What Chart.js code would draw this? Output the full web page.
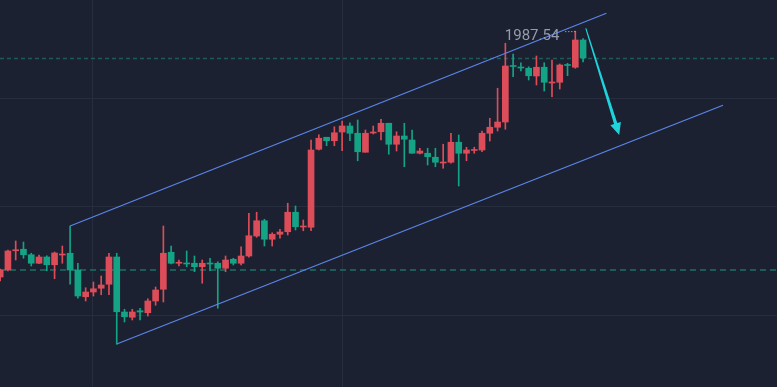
<!DOCTYPE html>
<html>
<head>
<meta charset="utf-8">
<script src="https://cdn.jsdelivr.net/npm/chart.js@4.4.0/dist/chart.umd.min.js"></script>
<style>
  html, body { margin: 0; padding: 0; background: #1b2130; overflow: hidden; }
  canvas { display: block; }
</style>
</head>
<body>
<canvas id="chart" width="777" height="387"></canvas>
<script>
(function() {
    'use strict';

    // candle data, first candle sits at index -1 (cut by the left edge)
    const firstIndex = -1;
    const opens = [1889.2,1892.0,1899.7,1900.3,1898.1,1894.7,1897.2,1894.1,1898.0,1898.7,
        1892.0,1881.3,1883.2,1884.7,1886.3,1897.2,1875.2,1873.1,1875.7,1874.9,
        1879.6,1884.3,1899.1,1894.7,1894.8,1894.7,1893.3,1894.8,1894.7,1892.7,
        1896.3,1894.7,1897.6,1905.6,1911.7,1904.3,1906.3,1907.3,1915.1,1909.2,
        1909.1,1940.3,1945.1,1943.7,1947.2,1949.6,1946.7,1939.1,1946.8,1947.3,
        1950.7,1942.3,1945.6,1944.0,1938.7,1938.7,1937.1,1934.8,1935.1,1943.1,
        1938.7,1939.8,1940.0,1946.7,1949.1,1951.2,1973.8,1973.0,1972.7,1969.6,
        1973.1,1966.8,1967.1,1974.2,1973.1,1984.0];
    const highs = [1892.4,1900.0,1903.6,1903.2,1898.7,1898.0,1897.7,1899.2,1901.6,1909.6,
        1894.7,1884.9,1887.2,1889.6,1898.7,1898.7,1876.3,1876.3,1876.7,1880.5,
        1885.2,1909.6,1901.6,1896.0,1899.6,1897.6,1896.0,1896.7,1895.3,1897.6,
        1896.7,1901.3,1914.7,1915.1,1912.3,1906.9,1908.3,1918.7,1917.6,1912.0,
        1944.0,1946.1,1945.1,1949.3,1951.6,1950.9,1952.0,1948.0,1949.6,1952.3,
        1950.7,1947.3,1950.7,1948.0,1940.7,1940.7,1940.7,1942.3,1946.7,1946.0,
        1941.1,1941.1,1947.6,1952.7,1964.7,1982.7,1978.4,1974.9,1973.3,1977.6,
        1974.9,1976.0,1974.4,1974.7,1987.54,1984.6];
    const lows = [1887.6,1891.6,1896.0,1896.7,1893.6,1894.5,1891.7,1888.5,1894.7,1886.3,
        1880.7,1879.6,1881.6,1882.1,1882.1,1862.3,1871.2,1872.0,1872.0,1873.6,
        1877.9,1879.2,1894.4,1893.6,1893.3,1891.3,1886.7,1891.7,1876.7,1891.3,
        1894.0,1894.0,1897.1,1905.1,1901.6,1901.6,1904.7,1906.0,1908.0,1907.7,
        1907.7,1940.0,1941.7,1941.7,1939.7,1943.7,1935.7,1939.1,1946.4,1944.0,
        1938.3,1939.6,1933.3,1938.7,1938.4,1934.0,1933.3,1932.7,1934.7,1925.6,
        1935.7,1938.7,1939.3,1943.6,1947.6,1948.3,1969.3,1971.6,1968.0,1966.0,
        1963.6,1961.3,1964.4,1969.7,1972.7,1975.2];
    const closes = [1892.0,1899.6,1900.0,1898.1,1894.7,1897.2,1894.1,1898.8,1898.4,1892.0,
        1881.6,1883.2,1884.5,1886.0,1897.2,1875.3,1873.3,1875.2,1875.2,1879.6,
        1884.0,1898.7,1894.7,1895.1,1894.4,1893.3,1894.7,1894.4,1892.7,1896.0,
        1894.7,1897.6,1905.7,1911.7,1904.3,1906.3,1907.2,1915.1,1909.3,1909.6,
        1940.0,1944.7,1943.7,1946.9,1949.6,1946.7,1939.3,1946.7,1947.1,1950.7,
        1942.3,1945.6,1944.3,1938.7,1939.6,1937.3,1935.1,1935.2,1943.1,1938.7,
        1940.0,1940.2,1946.7,1949.1,1951.2,1973.6,1973.4,1972.8,1969.7,1973.1,
        1967.1,1967.2,1974.0,1973.8,1984.0,1976.8];

    // drawn objects: channel, arrow, dashed levels, grid
    const upperChannel = [[8, 1909.6], [77.0, 1994.7]];
    const lowerChannel = [[14, 1862.4], [92.0, 1957.9]];
    const arrowPath = [[74.35, 1988.7], [78.65, 1946.0]];
    const levelTop = 1976.9;
    const levelBottom = 1892.1;
    const yGrid = [1874.0, 1917.3, 1960.7];
    const xGrid = [10.9, 43.0];

    const RED = '#dd4d59';
    const GREEN = '#15a386';

    const wicks = lows.map((l, i) => ({ x: i + firstIndex, y: [l, highs[i]] }));
    const bodies = opens.map((o, i) => ({ x: i + firstIndex, y: [o, closes[i]] }));
    const upColor = ctx => {
        const i = ctx.dataIndex;
        return closes[i] >= opens[i] ? RED : GREEN;
    };

    const overlay = {
        id: 'overlay',
        beforeDatasetsDraw(chart) {
            const { ctx, chartArea: a, scales: { y } } = chart;
            ctx.save();
            ctx.strokeStyle = '#1d5b57';
            ctx.lineWidth = 1.5;
            ctx.setLineDash([4, 3]);
            let py = Math.round(y.getPixelForValue(levelTop)) + 0.5;
            ctx.beginPath(); ctx.moveTo(a.left, py); ctx.lineTo(a.right, py); ctx.stroke();
            ctx.lineWidth = 2;
            ctx.setLineDash([6, 4]);
            py = Math.round(y.getPixelForValue(levelBottom));
            ctx.beginPath(); ctx.moveTo(a.left, py); ctx.lineTo(a.right, py); ctx.stroke();
            ctx.restore();
        },
        afterDatasetsDraw(chart) {
            const { ctx, scales: { x, y } } = chart;
            ctx.save();
            // high label
            let hi = 0;
            highs.forEach((h, i) => { if (h > highs[hi]) hi = i; });
            const hx = x.getPixelForValue(hi + firstIndex);
            const hy = y.getPixelForValue(highs[hi]);
            ctx.font = '15px Roboto';
            ctx.fillStyle = '#959cab';
            ctx.textAlign = 'right';
            ctx.textBaseline = 'middle';
            ctx.fillText(highs[hi].toFixed(2), hx - 16, hy + 5);
            ctx.strokeStyle = '#c9ccd3';
            ctx.lineWidth = 1;
            ctx.setLineDash([1, 2]);
            ctx.beginPath(); ctx.moveTo(hx - 10, hy + 0.5); ctx.lineTo(hx, hy + 0.5); ctx.stroke();
            ctx.setLineDash([]);

            // arrow, tapered toward the head
            const x1 = x.getPixelForValue(arrowPath[0][0]), y1 = y.getPixelForValue(arrowPath[0][1]);
            const x2 = x.getPixelForValue(arrowPath[1][0]), y2 = y.getPixelForValue(arrowPath[1][1]);
            const len = Math.hypot(x2 - x1, y2 - y1);
            const ux = (x2 - x1) / len, uy = (y2 - y1) / len;
            const nx = -uy, ny = ux;
            const headLen = 12, headW = 5.5;
            const bx = x2 - ux * headLen, by = y2 - uy * headLen;
            ctx.fillStyle = '#1fd3dc';
            ctx.beginPath();
            ctx.moveTo(x1 + nx * 0.5, y1 + ny * 0.5);
            ctx.lineTo(bx + nx * 1.7, by + ny * 1.7);
            ctx.lineTo(bx + nx * headW, by + ny * headW);
            ctx.lineTo(x2, y2);
            ctx.lineTo(bx - nx * headW, by - ny * headW);
            ctx.lineTo(bx - nx * 1.7, by - ny * 1.7);
            ctx.lineTo(x1 - nx * 0.5, y1 - ny * 0.5);
            ctx.closePath();
            ctx.fill();
            ctx.restore();
        }
    };

    const lineDs = pts => ({
        type: 'line',
        data: pts.map(p => ({ x: p[0], y: p[1] })),
        borderColor: '#5b84e8',
        borderWidth: 1.3,
        pointRadius: 0,
        fill: false,
        order: 0
    });

    new Chart(document.getElementById('chart'), {
        type: 'bar',
        data: {
            datasets: [
                lineDs(upperChannel),
                lineDs(lowerChannel),
                { data: bodies, backgroundColor: upColor, barThickness: 6, minBarLength: 1, grouped: false, order: 1 },
                { data: wicks, backgroundColor: upColor, barThickness: 1, grouped: false, order: 2 }
            ]
        },
        options: {
            responsive: false,
            animation: false,
            layout: { padding: 0 },
            plugins: { legend: { display: false }, tooltip: { enabled: false } },
            scales: {
                x: {
                    type: 'linear', min: -1.02, max: 98.95, offset: false,
                    afterBuildTicks: s => { s.ticks = xGrid.map(v => ({ value: v })); },
                    ticks: { display: false },
                    grid: { color: '#262e3d', drawTicks: false, lineWidth: 1, offset: false },
                    border: { display: false }
                },
                y: {
                    min: 1845.2, max: 2000,
                    afterBuildTicks: s => { s.ticks = yGrid.map(v => ({ value: v })); },
                    ticks: { display: false },
                    grid: { color: '#262e3d', drawTicks: false, lineWidth: 1 },
                    border: { display: false }
                }
            }
        },
        plugins: [overlay, {
            id: 'bg',
            beforeDraw(chart) {
                const c = chart.ctx;
                c.save(); c.fillStyle = '#1b2130'; c.fillRect(0, 0, chart.width, chart.height); c.restore();
            }
        }]
    });
})();
</script>
</body>
</html>
